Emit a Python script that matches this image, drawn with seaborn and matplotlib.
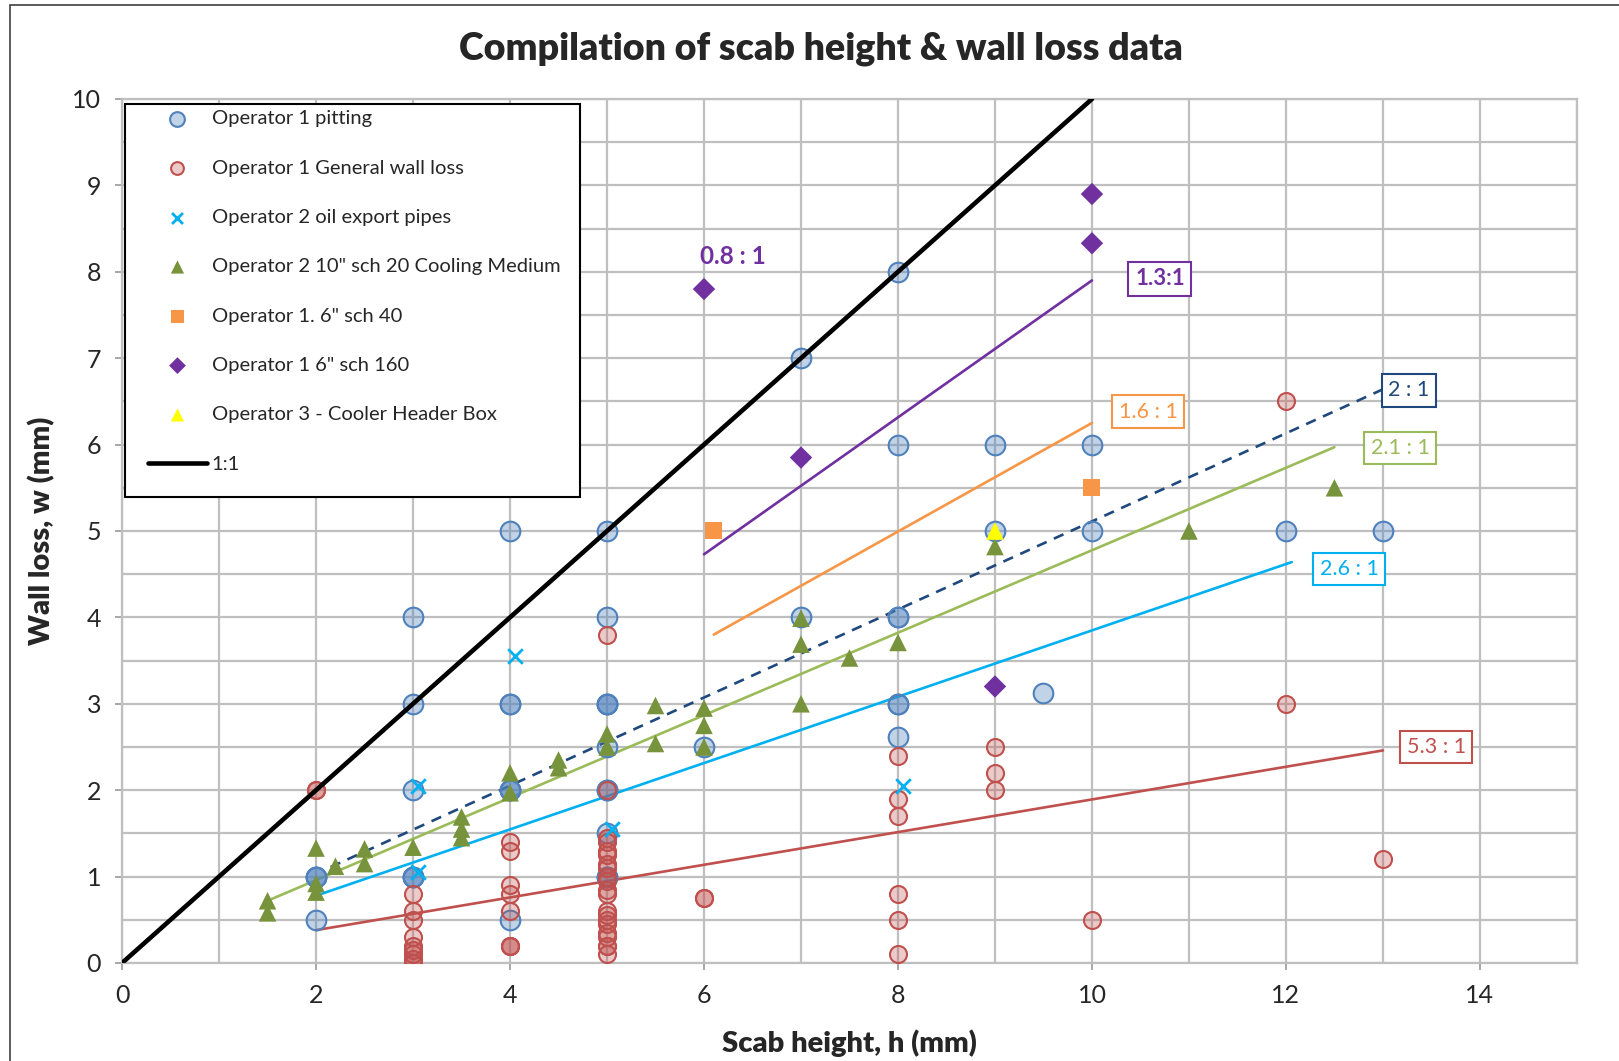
import matplotlib
matplotlib.use("Agg")
import matplotlib.pyplot as plt
from matplotlib.patches import Rectangle
from matplotlib.ticker import MultipleLocator
import seaborn as sns
import numpy as np

# ---- data ----
# Operator 1 pitting (repeated values = overlapping points)
pit_h = [2, 2, 2, 2, 3, 3, 3, 3, 3, 3, 4, 4, 4, 4, 4, 4, 4,
         5, 5, 5, 5, 5, 5, 5, 5, 5, 5, 5, 6, 7, 7, 8, 8, 8, 8, 8, 8, 8,
         9, 9, 9.5, 10, 10, 12, 13]
pit_w = [1, 1, 1, 0.5, 4, 3, 2, 1, 1, 1, 5, 3, 3, 2, 2, 2, 0.5,
         5, 4, 3, 3, 3, 2.5, 2, 2, 1.5, 1, 1, 2.5, 7, 4, 8, 6, 4, 4, 3, 3, 2.62,
         6, 5, 3.13, 6, 5, 5, 5]

# Operator 1 general wall loss
gen_h = [2, 2,
         3, 3, 3, 3, 3, 3, 3, 3, 3, 3,
         4, 4, 4, 4, 4, 4, 4, 4,
         5, 5, 5, 5, 5, 5, 5, 5, 5, 5, 5, 5, 5, 5, 5, 5, 5, 5, 5, 5, 5,
         6, 6, 8, 8, 8, 8, 8, 8, 9, 9, 9, 10, 12, 12, 13]
gen_w = [2, 2,
         0.8, 0.6, 0.5, 0.3, 0.2, 0.15, 0.1, 0.05, 0.0, 0.0,
         1.4, 1.3, 0.9, 0.8, 0.6, 0.2, 0.2, 0.2,
         3.8, 2.0, 1.45, 1.4, 1.3, 1.25, 1.15, 1.1, 1.0, 0.95, 0.85, 0.8,
         0.6, 0.55, 0.5, 0.45, 0.35, 0.3, 0.2, 0.2, 0.1,
         0.75, 0.75, 2.4, 1.9, 1.7, 0.8, 0.5, 0.1, 2.5, 2.2, 2.0, 0.5, 6.5, 3.0, 1.2]

# Operator 2 oil export pipes
oil_h = [3.05, 3.05, 4.05, 5.05, 8.05]
oil_w = [2.05, 1.05, 3.55, 1.55, 2.05]

# Operator 2 10" sch 20 cooling medium
cool_h = [1.5, 1.5, 2, 2, 2, 2.2, 2.5, 2.5, 3, 3.5, 3.5, 3.5, 4, 4, 4.5, 4.5,
          5, 5, 5.5, 5.5, 6, 6, 6, 7, 7, 7, 7.5, 8, 9, 11, 12.5]
cool_w = [0.72, 0.58, 1.33, 0.92, 0.82, 1.12, 1.32, 1.15, 1.34, 1.69, 1.55, 1.45,
          2.2, 1.97, 2.35, 2.26, 2.65, 2.5, 2.98, 2.54, 2.95, 2.75, 2.5,
          3.99, 3.69, 3.0, 3.53, 3.71, 4.82, 5.0, 5.5]

# Operator 1. 6" sch 40
s40_h = [6.1, 10]
s40_w = [5.0, 5.5]

# Operator 1 6" sch 160
s160_h = [6, 7, 9, 10, 10]
s160_w = [7.8, 5.85, 3.2, 8.9, 8.33]

# Operator 3 cooler header box
op3_h = [9]
op3_w = [5.0]

# 1:1 reference line
one_h = [0, 10]
one_w = [0, 10]

# ratio lines (start/end points) and their labels
ratio_names = ["1.3:1", "1.6 : 1", "2 : 1", "2.1 : 1", "2.6 : 1", "5.3 : 1"]
ratio_h0 = [6.0, 6.1, 2.15, 1.5, 2.03, 2.0]
ratio_w0 = [4.73, 3.80, 1.11, 0.72, 0.79, 0.38]
ratio_h1 = [10.0, 10.0, 13.0, 12.5, 12.06, 13.0]
ratio_w1 = [7.9, 6.25, 6.64, 5.97, 4.64, 2.46]
ratio_label_h = [10.70, 10.58, 13.27, 13.18, 12.65, 13.55]
ratio_label_w = [7.92, 6.38, 6.63, 5.96, 4.56, 2.50]
ratio_colors = ["#7030a0", "#f79646", "#1f497d", "#9bbb59", "#00b0f0", "#c0504d"]

sns.set_style("white")
plt.rcParams["font.family"] = ["Lato", "DejaVu Sans"]

fig = plt.figure(figsize=(16.19, 10.61), dpi=100)
ax = fig.add_axes([0.0754, 0.0924, 0.8986, 0.8143])

grid_c = "#bfbfbf"

# ratio lines
for i, name in enumerate(ratio_names):
    ls = "--" if name == "2 : 1" else "-"
    sns.lineplot(x=[ratio_h0[i], ratio_h1[i]], y=[ratio_w0[i], ratio_w1[i]],
                 color=ratio_colors[i], linewidth=1.9, linestyle=ls, ax=ax,
                 estimator=None, sort=False, zorder=3, legend=False)
    if ls == "--":
        ax.lines[-1].set_dashes((4, 3))
    bold = name == "1.3:1"
    ax.text(ratio_label_h[i], ratio_label_w[i], name, color=ratio_colors[i],
            fontsize=16 if bold else 15.5, ha="center", va="center",
            fontweight="bold" if bold else "normal", zorder=6,
            bbox=dict(boxstyle="square,pad=0.3", fc="white",
                      ec=ratio_colors[i], lw=1.5))

ax.text(6.3, 8.18, "0.8 : 1", color="#7030a0", fontsize=17.5, fontweight="bold",
        ha="center", va="center", zorder=6)

# scatter series
sns.scatterplot(x=pit_h, y=pit_w, marker="o", s=200,
                color=(0.31, 0.506, 0.741, 0.35), edgecolor="#4f81bd",
                linewidth=1.5, ax=ax, zorder=4, label="Operator 1 pitting")
sns.scatterplot(x=gen_h, y=gen_w, marker="o", s=150,
                color=(0.753, 0.314, 0.302, 0.3), edgecolor="#c0504d",
                linewidth=1.5, ax=ax, zorder=4, label="Operator 1 General wall loss")
sns.scatterplot(x=oil_h, y=oil_w, marker="x", s=110, color="#00b0f0",
                linewidth=2, ax=ax, zorder=4, label="Operator 2 oil export pipes")
sns.scatterplot(x=cool_h, y=cool_w, marker="^", s=160, color="#77933c",
                edgecolor="none", ax=ax, zorder=4,
                label='Operator 2 10" sch 20 Cooling Medium')
sns.scatterplot(x=s40_h, y=s40_w, marker="s", s=150, color="#f79646",
                edgecolor="none", ax=ax, zorder=4, label='Operator 1. 6" sch 40')
sns.scatterplot(x=s160_h, y=s160_w, marker="D", s=130, color="#7030a0",
                edgecolor="none", ax=ax, zorder=4, label='Operator 1 6" sch 160')
sns.scatterplot(x=op3_h, y=op3_w, marker="^", s=160, color="#ffff00",
                edgecolor="none", ax=ax, zorder=5,
                label="Operator 3 - Cooler Header Box")
sns.lineplot(x=one_h, y=one_w, color="black", linewidth=3.3, ax=ax,
             estimator=None, sort=False, zorder=4, label="1:1")

# axes, grid, ticks
ax.set_xlim(0, 15)
ax.set_ylim(0, 10)
ax.xaxis.set_major_locator(MultipleLocator(2))
ax.xaxis.set_minor_locator(MultipleLocator(1))
ax.yaxis.set_major_locator(MultipleLocator(1))
ax.yaxis.set_minor_locator(MultipleLocator(0.5))
ax.grid(which="both", color=grid_c, linewidth=1.6)
ax.set_axisbelow(True)
for sp in ax.spines.values():
    sp.set_color(grid_c)
    sp.set_linewidth(1.6)
ax.tick_params(which="major", direction="out", length=5, width=1.3,
               color="#a0a0a0", labelsize=18, pad=10, bottom=True, left=True)
ax.tick_params(which="minor", length=0)

ax.set_xlabel("Scab height, h (mm)", fontsize=21, fontweight="heavy", labelpad=16)
ax.set_ylabel("Wall loss, w (mm)", fontsize=21, fontweight="heavy", labelpad=12)
fig.text(0.507, 0.954, "Compilation of scab height & wall loss data",
         fontsize=27, fontweight="heavy", ha="center", va="center")

# legend box drawn as a patch, legend itself without frame
ax.add_patch(Rectangle((0.002, 0.539), 0.313, 0.455, transform=ax.transAxes,
                       facecolor="white", edgecolor="black", lw=1.5, zorder=7))
handles, labels = ax.get_legend_handles_labels()
leg = ax.legend(handles, labels, loc="upper left", bbox_to_anchor=(0.018, 0.987),
                frameon=False, fontsize=14.5, labelspacing=1.6, handlelength=2.9,
                handletextpad=0.25, borderpad=0, borderaxespad=0,
                markerscale=0.75, scatterpoints=1)
leg.set_zorder(8)

# outer chart border
fig.add_artist(Rectangle((10 / 1619, -0.1), 1.2, 1.1 - 5.5 / 1061,
                         transform=fig.transFigure, fill=False,
                         edgecolor="#404040", lw=1.2))

fig.savefig("out.png", dpi=100)
